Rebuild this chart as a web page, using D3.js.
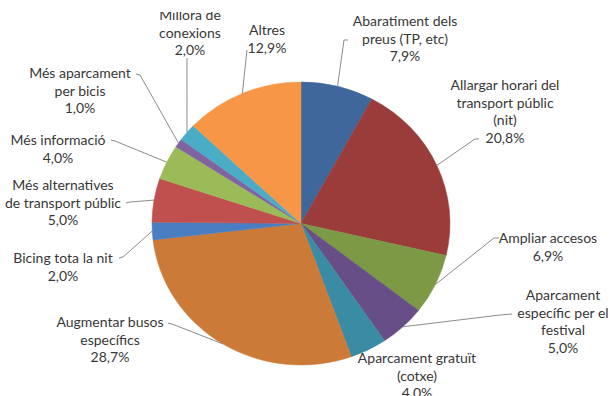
<!DOCTYPE html>
<html>
<head>
<meta charset="utf-8">
<script src="https://cdn.jsdelivr.net/npm/d3@7"></script>
<style>
  html, body { margin: 0; padding: 0; background: #fff; }
  svg { display: block; }
  text { font-family: Lato, "Open Sans", sans-serif; fill: #383838; }
</style>
</head>
<body>
<svg id="chart" width="612" height="396"></svg>
<script>
// Proposals, clockwise from 12 o'clock
const categories = [
  "Abaratiment dels preus (TP, etc)",
  "Allargar horari del transport públic (nit)",
  "Ampliar accesos",
  "Aparcament específic per el festival",
  "Aparcament gratuït (cotxe)",
  "Augmentar busos específics",
  "Bicing tota la nit",
  "Més alternatives de transport públic",
  "Més informació",
  "Més aparcament per bicis",
  "Millora de conexions",
  "Altres"
];
const values = [7.9, 20.8, 6.9, 5.0, 4.0, 28.7, 2.0, 5.0, 4.0, 1.0, 2.0, 12.9];
const valueLabels = ["7,9%", "20,8%", "6,9%", "5,0%", "4,0%", "28,7%", "2,0%", "5,0%", "4,0%", "1,0%", "2,0%", "12,9%"];

// How each category name wraps onto lines
const labelLines = [
  ["Abaratiment dels", "preus (TP, etc)"],
  ["Allargar horari del", "transport públic", "(nit)"],
  ["Ampliar accesos"],
  ["Aparcament", "específic per el", "festival"],
  ["Aparcament gratuït", "(cotxe)"],
  ["Augmentar busos", "específics"],
  ["Bicing tota la nit"],
  ["Més alternatives", "de transport públic"],
  ["Més informació"],
  ["Més aparcament", "per bicis"],
  ["Millora de", "conexions"],
  ["Altres"]
];

const colors = [
  "#3f679b", "#9a3c3a", "#7c9a45", "#674e86", "#3a8ca4", "#cb7a37",
  "#4a7ec2", "#c0504d", "#9bbb59", "#8064a2", "#4bacc6", "#f79646"
];

// Label placement: text centre x, first line centre y, leader start points
const labelLayout = [
  { x: 405, y: 21,  leader: [[348, 40], [344, 40]] },
  { x: 505, y: 85,  leader: [[479, 139], [475, 139]] },
  { x: 548, y: 238, leader: [[499, 238], [494, 238]] },
  { x: 563, y: 295, leader: [[512, 314], [500, 315]] },
  { x: 417, y: 358, leader: null },
  { x: 110, y: 322, leader: [[168, 323], [172, 324]] },
  { x: 63,  y: 258, leader: [[119, 258], [123, 257]] },
  { x: 63,  y: 185, leader: [[126, 203], [130, 202]] },
  { x: 58,  y: 140, leader: [[111, 140], [115, 141]] },
  { x: 80,  y: 73,  leader: [[136, 74], [140, 75]] },
  { x: 190, y: 15,  leader: [[187, 58]] },
  { x: 267, y: 30,  leader: [[247, 50]] }
];

const svg = d3.select("#chart");
const cx = 301, cy = 223.5, rx = 149, ry = 141.5;
const lineH = 17.6;

svg.append("defs").append("clipPath").attr("id", "plotClip")
  .append("rect").attr("x", 0).attr("y", 12).attr("width", 612).attr("height", 384);

const root = svg.append("g").attr("clip-path", "url(#plotClip)");

const pie = d3.pie().sort(null).value(d => d);
const arcs = pie(values);
const arc = d3.arc().innerRadius(0).outerRadius(rx);

// Slices
root.append("g")
  .attr("transform", `translate(${cx},${cy}) scale(1,${ry / rx})`)
  .selectAll("path")
  .data(arcs)
  .join("path")
  .attr("d", arc)
  .attr("fill", (d, i) => colors[i])
  .attr("stroke", (d, i) => colors[i])
  .attr("stroke-width", 0.5);

// Point on the pie rim at a slice's mid-angle
const rimPoint = d => {
  const a = (d.startAngle + d.endAngle) / 2;
  return [cx + rx * Math.sin(a), cy - ry * Math.cos(a)];
};

// Leader lines
const line = d3.line();
root.append("g")
  .selectAll("path")
  .data(arcs.filter((d, i) => labelLayout[i].leader))
  .join("path")
  .attr("d", d => line(labelLayout[d.index].leader.concat([rimPoint(d)])))
  .attr("fill", "none")
  .attr("stroke", "#8c8c8c")
  .attr("stroke-width", 1);

// Labels
const labels = root.append("g")
  .selectAll("text")
  .data(arcs)
  .join("text")
  .attr("text-anchor", "middle")
  .attr("font-size", 14);

labels.each(function (d, i) {
  const lines = labelLines[i].concat([valueLabels[i]]);
  const t = d3.select(this);
  lines.forEach((s, k) => {
    t.append("tspan")
      .attr("x", labelLayout[i].x)
      .attr("y", labelLayout[i].y + k * lineH)
      .attr("dy", "0.35em")
      .text(s);
  });
});
</script>
</body>
</html>
